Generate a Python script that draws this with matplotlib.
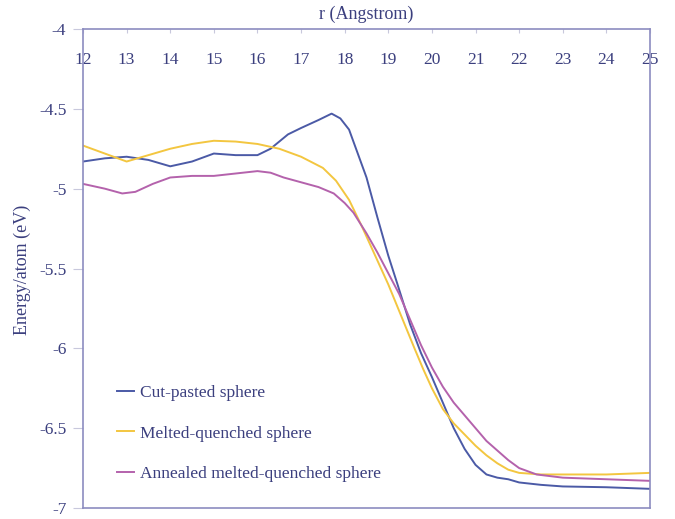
import matplotlib
matplotlib.use("Agg")
import matplotlib.pyplot as plt

# --- data (r in Angstrom, energy in eV/atom) --------------------------------
r_cut = [12.0, 12.5, 13.0, 13.5, 14.0, 14.5, 15.0, 15.5, 16.0, 16.3, 16.7,
         17.0, 17.4, 17.7, 17.9, 18.1, 18.3, 18.5, 18.75, 19.0, 19.2, 19.5,
         19.75, 20.0, 20.25, 20.5, 20.75, 21.0, 21.25, 21.5, 21.75, 22.0,
         22.5, 23.0, 24.0, 25.0]
e_cut = [-4.83, -4.81, -4.80, -4.82, -4.86, -4.83, -4.78, -4.79, -4.79, -4.75,
         -4.66, -4.62, -4.57, -4.53, -4.56, -4.63, -4.78, -4.93, -5.18, -5.42,
         -5.59, -5.85, -6.03, -6.18, -6.34, -6.50, -6.63, -6.73, -6.79, -6.81,
         -6.82, -6.84, -6.855, -6.865, -6.87, -6.88]

r_melt = [12.0, 12.5, 13.0, 13.5, 14.0, 14.5, 15.0, 15.5, 16.0, 16.5, 17.0,
          17.5, 17.8, 18.1, 18.4, 18.7, 19.0, 19.3, 19.6, 19.8, 20.0, 20.25,
          20.5, 20.75, 21.0, 21.25, 21.5, 21.75, 22.0, 22.5, 23.0, 24.0, 25.0]
e_melt = [-4.73, -4.78, -4.83, -4.79, -4.75, -4.72, -4.70, -4.705, -4.72,
          -4.75, -4.80, -4.87, -4.95, -5.07, -5.24, -5.42, -5.60, -5.80, -6.00,
          -6.13, -6.25, -6.38, -6.47, -6.54, -6.61, -6.67, -6.72, -6.76, -6.78,
          -6.79, -6.79, -6.79, -6.78]

r_ann = [12.0, 12.5, 12.9, 13.2, 13.6, 14.0, 14.5, 15.0, 15.5, 16.0, 16.3,
         16.6, 17.0, 17.4, 17.75, 18.0, 18.2, 18.5, 18.75, 19.0, 19.25, 19.5,
         19.75, 20.0, 20.25, 20.5, 20.75, 21.0, 21.25, 21.5, 21.75, 22.0,
         22.4, 23.0, 24.0, 25.0]
e_ann = [-4.97, -5.00, -5.03, -5.02, -4.97, -4.93, -4.92, -4.92, -4.905,
         -4.89, -4.90, -4.93, -4.96, -4.99, -5.03, -5.09, -5.15, -5.28, -5.40,
         -5.53, -5.66, -5.82, -5.98, -6.12, -6.24, -6.34, -6.42, -6.50, -6.58,
         -6.64, -6.70, -6.75, -6.79, -6.81, -6.82, -6.83]

x_ticks = list(range(12, 26))
y_ticks = [-4, -4.5, -5, -5.5, -6, -6.5, -7]
y_tick_labels = ["-4", "-4.5", "-5", "-5.5", "-6", "-6.5", "-7"]

TEXT = "#3b3f7e"
FRAME = "#8c8cc0"

plt.rcParams["font.family"] = ["Liberation Serif", "DejaVu Serif"]

fig = plt.figure(figsize=(6.75, 5.19), dpi=100)
ax = fig.add_axes([83 / 675, 1 - 508 / 519, 567 / 675, 479 / 519])

ax.plot(r_cut, e_cut, color="#4b5aa6", lw=1.4, label="Cut-pasted sphere")
ax.plot(r_melt, e_melt, color="#f3c640", lw=1.4, label="Melted-quenched sphere")
ax.plot(r_ann, e_ann, color="#b462ac", lw=1.4,
        label="Annealed melted-quenched sphere")

ax.set_xlim(12, 25)
ax.set_ylim(-7, -4)
ax.set_xticks(x_ticks)
ax.set_yticks(y_ticks)
ax.set_yticklabels(y_tick_labels)

# x ticks live on the top spine, labels sit just inside the frame
ax.xaxis.set_ticks_position("top")
ax.tick_params(axis="x", direction="in", length=3, color="#c8c8dc",
               pad=-28, labelsize=12.5, labelcolor=TEXT)
ax.tick_params(axis="y", direction="out", length=7, color="#c8c8dc",
               pad=5, labelsize=12.5, labelcolor=TEXT)

for sp in ax.spines.values():
    sp.set_color(FRAME)
    sp.set_linewidth(1.2)

fig.text(366 / 675, 1 - 14 / 519, "r (Angstrom)", ha="center", va="center",
         fontsize=13, color=TEXT)
fig.text(22 / 675, 1 - 270 / 519, "Energy/atom (eV)", ha="center",
         va="center", rotation=90, fontsize=13, color=TEXT)

leg = ax.legend(loc="upper left", bbox_to_anchor=(0.06, 0.257),
                frameon=False, fontsize=12.5, handlelength=1.0,
                handletextpad=0.3, labelspacing=1.4, borderpad=0,
                borderaxespad=0)
for txt in leg.get_texts():
    txt.set_color(TEXT)

fig.savefig("out.png", dpi=100)
